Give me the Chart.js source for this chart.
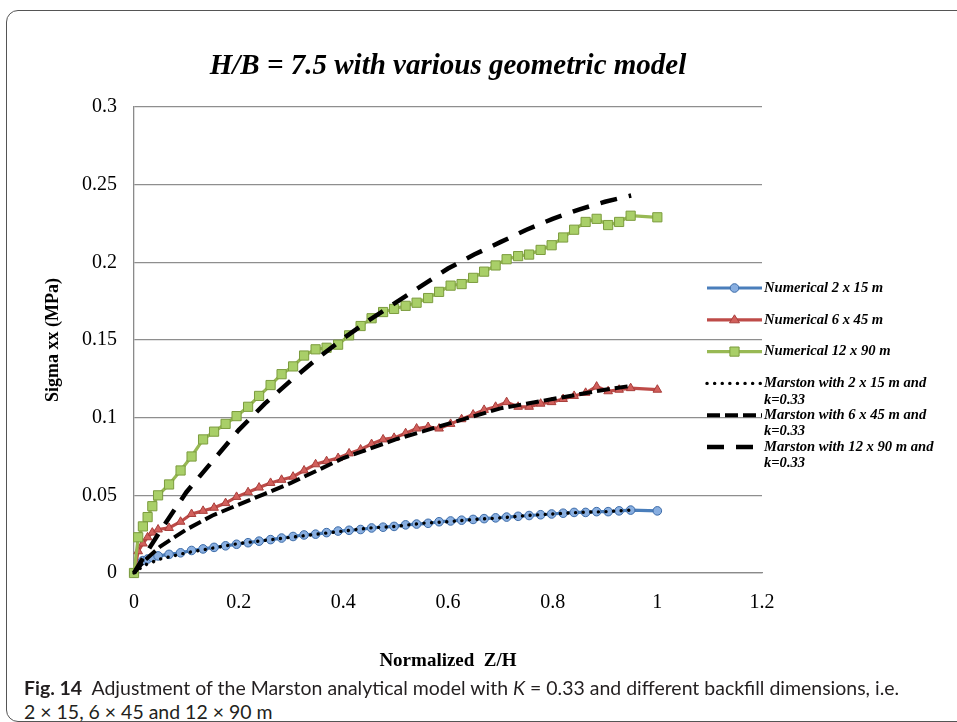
<!DOCTYPE html>
<html><head><meta charset="utf-8">
<script src="https://cdn.jsdelivr.net/npm/chart.js@4.4.1/dist/chart.umd.min.js"></script>
<style>
html,body{margin:0;padding:0;background:#fff;width:957px;height:722px;overflow:hidden;position:relative}
#card{position:absolute;left:6px;top:10px;width:1000px;height:712px;border:1.6px solid #555;border-radius:12px;box-sizing:border-box}
#chartWrap{position:absolute;left:0;top:0;width:957px;height:690px}
.cap{position:absolute;left:24px;font-family:'Lato','Open Sans',sans-serif;font-size:16px;line-height:20px;color:#231f20;white-space:nowrap}
.cap b{font-weight:bold}
</style></head>
<body>
<div id="card"></div>
<div id="chartWrap"><canvas id="c" width="957" height="690"></canvas></div>
<div class="cap" id="cap1" style="top:678px"><b>Fig. 14</b>&nbsp; Adjustment of the Marston analytical model with <i>K</i> = 0.33 and different backfill dimensions, i.e.</div>
<div class="cap" id="cap2" style="top:702px">2 × 15, 6 × 45 and 12 × 90 m</div>
<script>
// ---- data ----
const numX = [0, 0.008, 0.017, 0.026, 0.035, 0.046, 0.067, 0.089, 0.110, 0.132, 0.153, 0.175, 0.196, 0.218, 0.239, 0.261, 0.282, 0.304, 0.325, 0.347, 0.368, 0.390, 0.411, 0.433, 0.454, 0.476, 0.497, 0.519, 0.540, 0.562, 0.583, 0.605, 0.626, 0.648, 0.669, 0.691, 0.712, 0.734, 0.755, 0.777, 0.798, 0.820, 0.841, 0.863, 0.884, 0.906, 0.927, 0.949, 1.0];
const num2x15 = [0, 0.006, 0.008, 0.009, 0.010, 0.011, 0.012, 0.013, 0.0145, 0.0155, 0.0165, 0.0175, 0.0185, 0.0195, 0.0205, 0.0215, 0.0225, 0.0235, 0.0245, 0.025, 0.026, 0.027, 0.0275, 0.028, 0.029, 0.0295, 0.030, 0.031, 0.0315, 0.032, 0.033, 0.0335, 0.034, 0.0345, 0.035, 0.0355, 0.036, 0.0365, 0.037, 0.0375, 0.038, 0.0385, 0.039, 0.039, 0.0395, 0.0395, 0.040, 0.0405, 0.040];
const num6x45 = [0, 0.014, 0.019, 0.023, 0.026, 0.028, 0.029, 0.033, 0.038, 0.040, 0.042, 0.045, 0.049, 0.052, 0.055, 0.058, 0.060, 0.062, 0.066, 0.070, 0.072, 0.074, 0.077, 0.0795, 0.083, 0.086, 0.087, 0.090, 0.093, 0.094, 0.093, 0.096, 0.099, 0.102, 0.105, 0.107, 0.110, 0.107, 0.107, 0.109, 0.110, 0.112, 0.114, 0.116, 0.120, 0.117, 0.118, 0.119, 0.118];
const num12x90 = [0, 0.023, 0.030, 0.036, 0.043, 0.050, 0.057, 0.066, 0.075, 0.086, 0.091, 0.096, 0.101, 0.107, 0.114, 0.121, 0.128, 0.133, 0.140, 0.144, 0.145, 0.147, 0.153, 0.159, 0.164, 0.168, 0.170, 0.172, 0.174, 0.177, 0.181, 0.185, 0.186, 0.190, 0.194, 0.198, 0.202, 0.204, 0.205, 0.208, 0.211, 0.216, 0.221, 0.226, 0.228, 0.224, 0.226, 0.230, 0.229];
const marstonX = [0, 0.02, 0.05, 0.1, 0.15, 0.2, 0.25, 0.3, 0.35, 0.4, 0.45, 0.5, 0.55, 0.6, 0.65, 0.7, 0.75, 0.8, 0.85, 0.9, 0.95];
const marston2x15 = [0, 0.005, 0.009, 0.013, 0.016, 0.019, 0.021, 0.023, 0.025, 0.027, 0.029, 0.030, 0.032, 0.033, 0.0345, 0.0355, 0.037, 0.038, 0.039, 0.0395, 0.0405];
const marston6x45 = [0, 0.008, 0.017, 0.028, 0.037, 0.044, 0.051, 0.058, 0.066, 0.074, 0.080, 0.086, 0.091, 0.096, 0.101, 0.106, 0.109, 0.112, 0.115, 0.118, 0.1205];
const marston12x90 = [0, 0.011, 0.027, 0.052, 0.072, 0.092, 0.109, 0.124, 0.138, 0.151, 0.163, 0.174, 0.185, 0.196, 0.205, 0.213, 0.221, 0.228, 0.234, 0.239, 0.243];
const seriesLabels = ['Numerical 2 x 15 m', 'Numerical 6 x 45 m', 'Numerical 12 x 90 m',
  'Marston with 2 x 15 m and k=0.33', 'Marston with 6 x 45 m and k=0.33', 'Marston with 12 x 90 m and k=0.33'];
const chartTitle = 'H/B = 7.5 with various geometric model';
const xAxisTitle = 'Normalized  Z/H';
const yAxisTitle = 'Sigma xx (MPa)';
const xRange = [0, 1.2], xStep = 0.2;
const yRange = [0, 0.3], yStep = 0.05;

// ---- layout constants ----
const W = 957, H = 690;
const AREA = {left: 134, right: 762, top: 107, bottom: 573};
const SERIF = "'Liberation Serif', 'DejaVu Serif', serif";

const pts = (xs, ys) => ys.map((y, i) => ({x: xs[i], y}));
const fmt = v => String(parseFloat(Number(v).toFixed(2)));

const datasets = [
  {label: seriesLabels[0], data: pts(numX, num2x15), borderColor: '#4A7EBB', borderWidth: 3.2,
   pointStyle: 'circle', pointRadius: 4.3, pointBackgroundColor: '#88aee0', pointBorderColor: '#3d6ca8', pointBorderWidth: 1, order: 3},
  {label: seriesLabels[1], data: pts(numX, num6x45), borderColor: '#BE4B48', borderWidth: 3.2,
   pointStyle: 'triangle', pointRadius: 5, pointBackgroundColor: '#d2605c', pointBorderColor: '#a83e3b', pointBorderWidth: 1, order: 2},
  {label: seriesLabels[2], data: pts(numX, num12x90), borderColor: '#98B954', borderWidth: 3.2,
   pointStyle: 'rect', pointRadius: 6.5, pointBackgroundColor: '#a9cf68', pointBorderColor: '#7c9c3e', pointBorderWidth: 1, order: 1},
  {label: seriesLabels[3], data: pts(marstonX, marston2x15), borderColor: '#000', borderWidth: 3.4,
   borderDash: [0.1, 7.5], borderCapStyle: 'round', pointRadius: 0, order: 0},
  {label: seriesLabels[4], data: pts(marstonX, marston6x45), borderColor: '#000', borderWidth: 4,
   borderDash: [13, 5], pointRadius: 0, order: 0},
  {label: seriesLabels[5], data: pts(marstonX, marston12x90), borderColor: '#000', borderWidth: 4.5,
   borderDash: [17, 12], pointRadius: 0, order: 0},
];
datasets.forEach(d => { d.tension = 0; d.fill = false; d.clip = false; d.pointHoverRadius = d.pointRadius; });

function drawMarker(ctx, style, r, x, y) {
  ctx.beginPath();
  if (style === 'circle') ctx.arc(x, y, r, 0, Math.PI * 2);
  else if (style === 'triangle') {
    const s = r * Math.sqrt(3);
    ctx.moveTo(x, y - r); ctx.lineTo(x - s / 2 * 1.15, y + r / 2 * 1.2); ctx.lineTo(x + s / 2 * 1.15, y + r / 2 * 1.2);
    ctx.closePath();
  } else if (style === 'rect') {
    const a = r * Math.SQRT1_2; ctx.rect(x - a, y - a, 2 * a, 2 * a);
  }
  ctx.fill(); ctx.stroke();
}

const sideLegend = {
  id: 'sideLegend',
  afterDraw(chart) {
    const ctx = chart.ctx;
    const x0 = chart.chartArea.right - 55, x1 = chart.chartArea.right;
    const top = 288, gap = 31.8, lineGap = 16.5, maxW = 186;
    ctx.save();
    ctx.font = "italic bold 14.6px " + SERIF;
    chart.data.datasets.forEach((ds, i) => {
      const y = top + i * gap;
      ctx.save();
      ctx.strokeStyle = ds.borderColor; ctx.lineWidth = ds.borderWidth;
      ctx.lineCap = ds.borderCapStyle || 'butt';
      ctx.setLineDash(ds.borderDash || []);
      ctx.beginPath(); ctx.moveTo(x0, y); ctx.lineTo(x1, y); ctx.stroke();
      ctx.restore();
      if (ds.pointRadius > 0) {
        ctx.save();
        ctx.fillStyle = ds.pointBackgroundColor; ctx.strokeStyle = ds.pointBorderColor; ctx.lineWidth = 1;
        drawMarker(ctx, ds.pointStyle, ds.pointRadius, (x0 + x1) / 2, y);
        ctx.restore();
      }
      const words = ds.label.split(' ');
      const lines = []; let cur = '';
      words.forEach(w => {
        const t = cur ? cur + ' ' + w : w;
        if (ctx.measureText(t).width > maxW && cur) { lines.push(cur); cur = w; } else cur = t;
      });
      lines.push(cur);
      ctx.fillStyle = '#000'; ctx.textAlign = 'left'; ctx.textBaseline = 'middle';
      lines.forEach((l, k) => ctx.fillText(l, x1 + 2, y + k * lineGap));
    });
    ctx.restore();
  }
};

new Chart(document.getElementById('c'), {
  type: 'line',
  data: {datasets},
  plugins: [sideLegend],
  options: {
    responsive: false, animation: false, devicePixelRatio: 1,
    layout: {padding: {left: 0, right: W - AREA.right, top: 0, bottom: 0}},
    plugins: {
      legend: {display: false}, tooltip: {enabled: false},
      title: {display: true, text: chartTitle, fullSize: false, color: '#000',
        font: {family: SERIF, size: 29, weight: 'bold', style: 'italic', lineHeight: 1.2},
        padding: {top: 49.6, bottom: AREA.top - 49.6 - 34.8}}
    },
    scales: {
      x: {type: 'linear', min: xRange[0], max: xRange[1],
        ticks: {stepSize: xStep, color: '#000', padding: 18, font: {family: SERIF, size: 20}, callback: fmt, maxRotation: 0},
        grid: {display: false, drawTicks: false},
        border: {display: true, color: '#8a8a8a', width: 1.3},
        title: {display: true, text: xAxisTitle, color: '#000', font: {family: SERIF, size: 19, weight: 'bold', lineHeight: 1.2}, padding: {top: 0, bottom: 17.6}},
        afterFit: s => { s.height = H - AREA.bottom; }
      },
      y: {type: 'linear', min: yRange[0], max: yRange[1],
        ticks: {stepSize: yStep, color: '#000', padding: 17, font: {family: SERIF, size: 20}, callback: fmt},
        grid: {display: true, drawTicks: false, color: '#8e8e8e', lineWidth: 1.3},
        border: {display: true, color: '#8a8a8a', width: 1.3},
        title: {display: true, text: yAxisTitle, color: '#000', font: {family: SERIF, size: 18, weight: 'bold', lineHeight: 1.2}, padding: {top: 43, bottom: 0}},
        afterFit: s => { s.width = AREA.left; }
      }
    }
  }
});

(function () {
  const c1 = document.getElementById('cap1'), c2 = document.getElementById('cap2');
  const w = c1.getBoundingClientRect().width;
  const fs = 16 * 876 / w;
  c1.style.fontSize = fs + 'px'; c2.style.fontSize = fs + 'px';
})();
</script>
</body></html>
